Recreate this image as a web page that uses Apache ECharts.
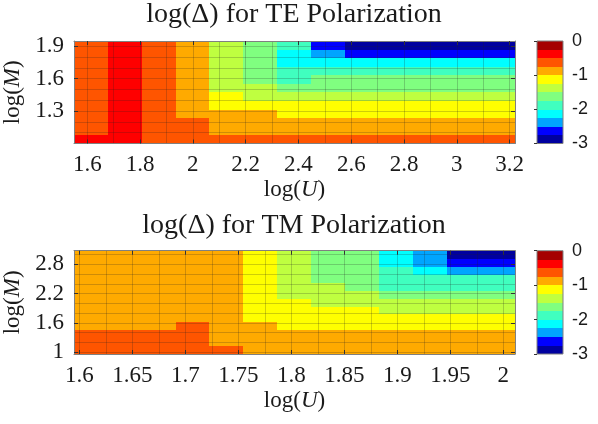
<!DOCTYPE html>
<html><head><meta charset="utf-8">
<script src="https://cdn.jsdelivr.net/npm/echarts@6/dist/echarts.min.js"></script>
<style>html,body{margin:0;padding:0;background:#fff}#c{width:598px;height:424px}</style>
</head><body><div id="c"></div>
<script>
// ---------------- DATA ----------------
// TE polarization: cell centres (log U across, log M up) and log(Delta) per row (bottom -> top)
const teLogU = [1.614, 1.7425, 1.871, 1.9995, 2.128, 2.2565, 2.385, 2.5135, 2.642, 2.7705, 2.899, 3.0275, 3.156];
const teLogM = [1.040, 1.119, 1.198, 1.277, 1.356, 1.435, 1.514, 1.593, 1.672, 1.751, 1.830, 1.909];
const teRow01 = [-0.375,-0.375,-0.625,-0.625,-0.625,-0.625,-0.625,-0.625,-0.625,-0.625,-0.625,-0.625,-0.625];
const teRow02 = [-0.625,-0.375,-0.625,-0.625,-0.875,-0.875,-0.875,-0.875,-0.875,-0.875,-0.875,-0.875,-0.875];
const teRow03 = [-0.625,-0.375,-0.625,-0.625,-0.875,-0.875,-0.875,-0.875,-0.875,-0.875,-0.875,-0.875,-0.875];
const teRow04 = [-0.625,-0.375,-0.625,-0.875,-0.875,-0.875,-1.125,-1.125,-1.125,-1.125,-1.125,-1.125,-1.125];
const teRow05 = [-0.625,-0.375,-0.625,-0.875,-1.125,-1.125,-1.125,-1.125,-1.125,-1.125,-1.125,-1.125,-1.125];
const teRow06 = [-0.625,-0.375,-0.625,-0.875,-1.125,-1.375,-1.375,-1.375,-1.375,-1.375,-1.375,-1.375,-1.375];
const teRow07 = [-0.625,-0.375,-0.625,-0.875,-1.375,-1.375,-1.625,-1.625,-1.625,-1.625,-1.625,-1.625,-1.625];
const teRow08 = [-0.625,-0.375,-0.625,-0.875,-1.375,-1.625,-1.875,-1.625,-1.625,-1.625,-1.625,-1.625,-1.625];
const teRow09 = [-0.625,-0.375,-0.625,-0.875,-1.375,-1.625,-1.875,-1.875,-1.875,-1.875,-1.875,-1.875,-1.875];
const teRow10 = [-0.625,-0.375,-0.625,-0.875,-1.375,-1.625,-2.125,-2.125,-2.125,-2.125,-2.125,-2.125,-2.125];
const teRow11 = [-0.625,-0.375,-0.625,-0.875,-1.375,-1.625,-2.125,-2.375,-2.625,-2.625,-2.625,-2.625,-2.625];
const teRow12 = [-0.625,-0.375,-0.625,-0.875,-1.375,-1.625,-1.875,-2.625,-2.875,-2.875,-2.875,-2.875,-2.875];

// TM polarization
const tmLogU = [1.611, 1.643, 1.675, 1.707, 1.739, 1.771, 1.803, 1.835, 1.867, 1.899, 1.931, 1.963, 1.995];
const tmLogM = [1.042, 1.205, 1.368, 1.531, 1.694, 1.857, 2.020, 2.183, 2.346, 2.509, 2.672, 2.835, 2.998];
const tmRow01 = [-0.625,-0.625,-0.625,-0.625,-0.625,-0.875,-0.875,-0.875,-0.875,-0.875,-0.875,-0.875,-0.875];
const tmRow02 = [-0.625,-0.625,-0.625,-0.625,-0.875,-0.875,-0.875,-0.875,-0.875,-0.875,-0.875,-0.875,-0.875];
const tmRow03 = [-0.625,-0.625,-0.625,-0.625,-0.875,-0.875,-0.875,-0.875,-0.875,-0.875,-0.875,-0.875,-0.875];
const tmRow04 = [-0.875,-0.875,-0.875,-0.625,-0.875,-0.875,-1.125,-1.125,-1.125,-1.125,-1.125,-1.125,-1.125];
const tmRow05 = [-0.875,-0.875,-0.875,-0.875,-0.875,-1.125,-1.125,-1.125,-1.125,-1.125,-1.125,-1.125,-1.125];
const tmRow06 = [-0.875,-0.875,-0.875,-0.875,-0.875,-1.125,-1.125,-1.125,-1.125,-1.375,-1.375,-1.375,-1.375];
const tmRow07 = [-0.875,-0.875,-0.875,-0.875,-0.875,-1.125,-1.125,-1.375,-1.375,-1.375,-1.375,-1.375,-1.375];
const tmRow08 = [-0.875,-0.875,-0.875,-0.875,-0.875,-1.125,-1.375,-1.375,-1.375,-1.625,-1.625,-1.625,-1.625];
const tmRow09 = [-0.875,-0.875,-0.875,-0.875,-0.875,-1.125,-1.375,-1.375,-1.625,-1.875,-1.875,-1.875,-1.875];
const tmRow10 = [-0.875,-0.875,-0.875,-0.875,-0.875,-1.125,-1.375,-1.625,-1.625,-1.875,-1.875,-1.875,-1.875];
const tmRow11 = [-0.875,-0.875,-0.875,-0.875,-0.875,-1.125,-1.375,-1.625,-1.625,-1.875,-2.125,-2.375,-2.375];
const tmRow12 = [-0.875,-0.875,-0.875,-0.875,-0.875,-1.125,-1.375,-1.625,-1.625,-2.125,-2.375,-2.625,-2.625];
const tmRow13 = [-0.875,-0.875,-0.875,-0.875,-0.875,-1.125,-1.375,-1.625,-1.625,-2.125,-2.375,-2.875,-2.875];

// tick labels
const teUTicks = [1.6, 1.8, 2.0, 2.2, 2.4, 2.6, 2.8, 3.0, 3.2];
const teMTicks = [1.3, 1.6, 1.9];
const tmUTicks = [1.6, 1.65, 1.7, 1.75, 1.8, 1.85, 1.9, 1.95, 2.0];
const tmMTicks = [1.0, 1.6, 2.2, 2.8];
const cbTicks = [-3, -2, -1, 0];
// colour levels (lower bounds, width 0.25) for the discrete colour bar
const cbLevels = [-3, -2.75, -2.5, -2.25, -2, -1.75, -1.5, -1.25, -1, -0.75, -0.5, -0.25];

// ---------------- STYLE ----------------
const palette = ['#00009f','#0000ff','#00a5ff','#00ffff','#40ffbf','#80ff80','#bfff40','#ffff00','#ffaa00','#ff5500','#ff0000','#a50000'];
const SERIF = 'Liberation Serif';
const SANS = 'Liberation Sans';
const TXT = '#1a1a1a';
const BOX = '#808080';
const GRIDC = 'rgba(30,30,30,0.22)';
const TICKFS = 23, NAMEFS = 23, TITLEFS = 28;

function step(a){ return (a[a.length-1]-a[0])/(a.length-1); }
function cells(xs, ys, rows){ const out=[]; rows.forEach((row,j)=>row.forEach((v,i)=>out.push([xs[i], ys[j], v]))); return out; }
function gridVals(lo, hi, d){ const out=[]; const n=Math.round((hi-lo)/d); for(let k=0;k<=n;k++) out.push(+(lo+k*d).toFixed(4)); return out; }
function makeRender(dx, dy){
  return function(params, api){
    const x=api.value(0), y=api.value(1);
    const a=api.coord([x-dx/2, y+dy/2]), b=api.coord([x+dx/2, y-dy/2]);
    const x0=Math.floor(a[0]+0.3), y0=Math.floor(a[1]+0.3), x1=Math.ceil(b[0]-0.3), y1=Math.ceil(b[1]-0.3);
    return {type:'rect', shape:{x:x0, y:y0, width:x1-x0, height:y1-y0}, style:{fill: api.visual('color')}};
  };
}
const fmt = v => String(+(+v).toFixed(3));

const teRows = [teRow01,teRow02,teRow03,teRow04,teRow05,teRow06,teRow07,teRow08,teRow09,teRow10,teRow11,teRow12];
const tmRows = [tmRow01,tmRow02,tmRow03,tmRow04,tmRow05,tmRow06,tmRow07,tmRow08,tmRow09,tmRow10,tmRow11,tmRow12,tmRow13];

const teDx = step(teLogU), teDy = step(teLogM), tmDx = step(tmLogU), tmDy = step(tmLogM);
const teXR = [teLogU[0]-teDx/2, teLogU[teLogU.length-1]+teDx/2];
const teYR = [teLogM[0]-teDy/2, teLogM[teLogM.length-1]+teDy/2];
const tmXR = [tmLogU[0]-tmDx/2, tmLogU[tmLogU.length-1]+tmDx/2];
const tmYR = [tmLogM[0]-tmDy/2, tmLogM[tmLogM.length-1]+tmDy/2];

const cbData = cbLevels.map(v => [0.5, v+0.125, v+0.125]);

const nameRich = {
  n:{fontFamily:SERIF, fontSize:NAMEFS, color:TXT},
  i:{fontFamily:SERIF, fontSize:NAMEFS, fontStyle:'italic', color:TXT}
};

function xAxes(gi, r, ticks, gvals, name){
  const base = {type:'value', gridIndex:gi, min:r[0], max:r[1], z:10};
  return [
    Object.assign({}, base, {position:'bottom',
      axisLine:{show:true, onZero:false, lineStyle:{color:BOX}},
      axisTick:{show:true, inside:true, length:4, customValues:ticks, lineStyle:{color:'#333'}},
      axisLabel:{show:true, customValues:ticks, formatter:fmt, margin:10, fontFamily:SERIF, fontSize:TICKFS, color:TXT},
      splitLine:{show:false},
      name:name, nameLocation:'middle', nameGap:35, nameTextStyle:{rich:nameRich}}),
    Object.assign({}, base, {position:'top',
      axisLine:{show:true, onZero:false, lineStyle:{color:BOX}},
      axisTick:{show:true, inside:true, length:4, customValues:ticks, lineStyle:{color:'#333'}},
      axisLabel:{show:false}, splitLine:{show:false}}),
    Object.assign({}, base, {position:'bottom',
      axisLine:{show:false}, axisLabel:{show:false},
      axisTick:{show:false, customValues:gvals},
      splitLine:{show:true, lineStyle:{color:GRIDC, width:1}}})
  ];
}
function yAxes(gi, r, ticks, gvals, name){
  const base = {type:'value', gridIndex:gi, min:r[0], max:r[1], z:10};
  return [
    Object.assign({}, base, {position:'left',
      axisLine:{show:true, onZero:false, lineStyle:{color:BOX}},
      axisTick:{show:true, inside:true, length:4, customValues:ticks, lineStyle:{color:'#333'}},
      axisLabel:{show:true, customValues:ticks, formatter:fmt, margin:10, fontFamily:SERIF, fontSize:TICKFS, color:TXT},
      splitLine:{show:false},
      name:name, nameLocation:'middle', nameGap:50, nameTextStyle:{rich:nameRich}}),
    Object.assign({}, base, {position:'right',
      axisLine:{show:true, onZero:false, lineStyle:{color:BOX}},
      axisTick:{show:true, inside:true, length:4, customValues:ticks, lineStyle:{color:'#333'}},
      axisLabel:{show:false}, splitLine:{show:false}}),
    Object.assign({}, base, {position:'left',
      axisLine:{show:false}, axisLabel:{show:false},
      axisTick:{show:false, customValues:gvals},
      splitLine:{show:true, lineStyle:{color:GRIDC, width:1}}})
  ];
}

const xAxisList = [].concat(
  xAxes(0, teXR, teUTicks, gridVals(1.6, 3.2, 0.1), '{n|log(}{i|U}{n|)}'),
  xAxes(1, tmXR, tmUTicks, gridVals(1.6, 2.0, 0.025), '{n|log(}{i|U}{n|)}'),
  [{type:'value', gridIndex:2, min:0, max:1, show:false},
   {type:'value', gridIndex:3, min:0, max:1, show:false}]
);
const cbY = gi => ({type:'value', gridIndex:gi, min:cbTicks[0], max:cbTicks[cbTicks.length-1], interval:1, position:'right', z:10,
  axisLine:{show:false}, splitLine:{show:false},
  axisTick:{show:true, inside:true, length:3, customValues:cbTicks, lineStyle:{color:'#333'}},
  axisLabel:{show:true, customValues:cbTicks, margin:9, fontFamily:SANS, fontSize:18, color:TXT, formatter: v => String(v)}});
const yAxisList = [].concat(
  yAxes(0, teYR, teMTicks, gridVals(1.0, 1.9, 0.1), '{n|log(}{i|M}{n|)}'),
  yAxes(1, tmYR, tmMTicks, gridVals(1.0, 3.0, 0.2), '{n|log(}{i|M}{n|)}'),
  [cbY(2), cbY(3)]
);

const gridBase = {outerBoundsMode:'none', containLabel:false};
const option = {
  animation:false,
  backgroundColor:'#fff',
  title:[
    {text:'log(Δ) for TE Polarization', left:294, top:1, padding:0, textAlign:'center',
     textStyle:{fontFamily:SERIF, fontSize:TITLEFS, fontWeight:'normal', color:TXT}},
    {text:'log(Δ) for TM Polarization', left:294, top:212, padding:0, textAlign:'center',
     textStyle:{fontFamily:SERIF, fontSize:TITLEFS, fontWeight:'normal', color:TXT}}
  ],
  grid:[
    Object.assign({left:74, top:41, width:441, height:102.5}, gridBase),
    Object.assign({left:74, top:250.7, width:441, height:103.3}, gridBase),
    Object.assign({left:537, top:41, width:26, height:102.5, show:true, z:10, backgroundColor:'transparent', borderColor:BOX, borderWidth:1}, gridBase),
    Object.assign({left:537, top:250.7, width:26, height:103.3, show:true, z:10, backgroundColor:'transparent', borderColor:BOX, borderWidth:1}, gridBase)
  ],
  xAxis:xAxisList,
  yAxis:yAxisList,
  visualMap:{type:'piecewise', show:false, dimension:2, seriesIndex:[0,1,2,3],
    pieces: cbLevels.map((lo,k)=>({gte:lo, lt:lo+0.25, color:palette[k]}))},
  series:[
    {type:'custom', xAxisIndex:0, yAxisIndex:0, renderItem:makeRender(teDx, teDy), data:cells(teLogU, teLogM, teRows), encode:{x:0,y:1}},
    {type:'custom', xAxisIndex:3, yAxisIndex:3, renderItem:makeRender(tmDx, tmDy), data:cells(tmLogU, tmLogM, tmRows), encode:{x:0,y:1}},
    {type:'custom', xAxisIndex:6, yAxisIndex:6, renderItem:makeRender(1, 0.25), data:cbData, encode:{x:0,y:1}},
    {type:'custom', xAxisIndex:7, yAxisIndex:7, renderItem:makeRender(1, 0.25), data:cbData, encode:{x:0,y:1}}
  ]
};
const chart = echarts.init(document.getElementById('c'), null, {renderer:'canvas'});
chart.setOption(option);
</script></body></html>
